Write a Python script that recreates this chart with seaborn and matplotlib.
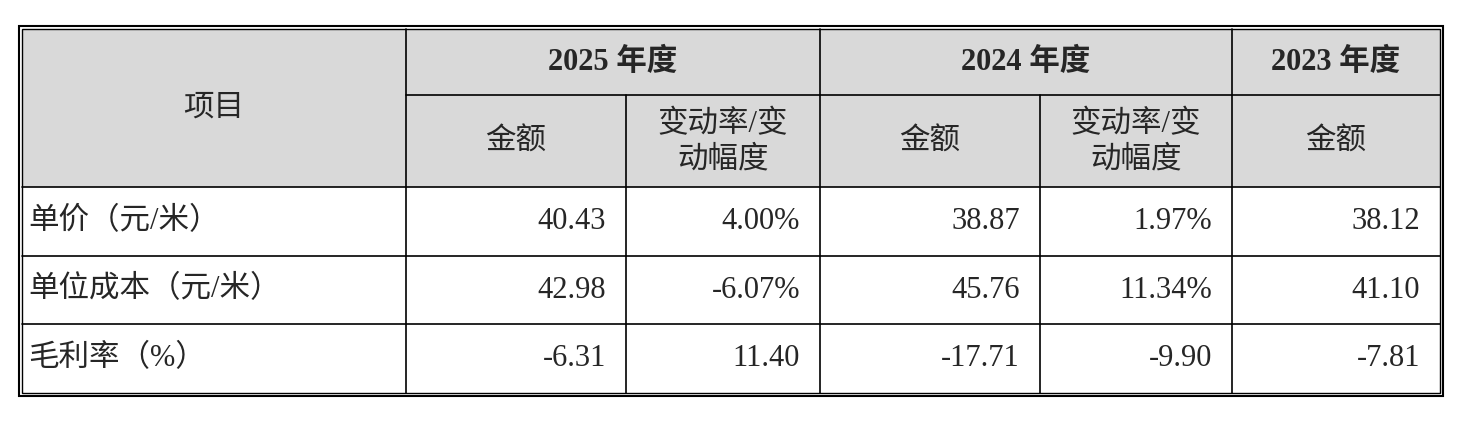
import matplotlib.pyplot as plt
import seaborn as sns
from matplotlib.patches import Rectangle

sns.set_theme(style="white")
plt.rcParams['font.family'] = ['Liberation Serif', 'Noto Sans CJK SC']

# table content
years = ['2025 年度', '2024 年度', '2023 年度']
sub_headers = ['金额', '变动率/变\n动幅度', '金额', '变动率/变\n动幅度', '金额']
row_labels = ['单价（元/米）', '单位成本（元/米）', '毛利率（%）']
row_values = [
    ['40.43', '4.00%', '38.87', '1.97%', '38.12'],
    ['42.98', '-6.07%', '45.76', '11.34%', '41.10'],
    ['-6.31', '11.40', '-17.71', '-9.90', '-7.81'],
]

# grid in pixels
col_x = [22, 406, 626, 820, 1040, 1232, 1440]
row_y = [29, 95, 187, 256, 324, 393]
gray = '#d9d9d9'
fs = 22

fig = plt.figure(figsize=(14.57, 4.26), dpi=100)
ax = fig.add_axes([0, 0, 1, 1])
ax.set_xlim(0, 1457)
ax.set_ylim(426, 0)
ax.axis('off')

ax.add_patch(Rectangle((col_x[0], row_y[0]), col_x[-1] - col_x[0], row_y[2] - row_y[0],
                       facecolor=gray, edgecolor='none'))

lw = 1.2
# horizontal lines
ax.plot([col_x[1], col_x[-1]], [row_y[1]] * 2, color='black', lw=lw)
for y in row_y[2:-1]:
    ax.plot([col_x[0], col_x[-1]], [y, y], color='black', lw=lw)
# vertical lines
ax.plot([col_x[1]] * 2, [row_y[0], row_y[-1]], color='black', lw=lw)
for x, top in [(col_x[2], row_y[1]), (col_x[3], row_y[0]), (col_x[4], row_y[1]), (col_x[5], row_y[0])]:
    ax.plot([x, x], [top, row_y[-1]], color='black', lw=lw)

# double outer border
ax.add_patch(Rectangle((19, 26), 1424, 370, fill=False, edgecolor='black', lw=1.5))
ax.add_patch(Rectangle((22, 29), 1418, 364, fill=False, edgecolor='black', lw=1.0))

# header
ax.text((col_x[0] + col_x[1]) / 2, 108, '项目', ha='center', va='center', fontsize=fs)
spans = [(1, 3), (3, 5), (5, 6)]
for (a, b), yr in zip(spans, years):
    ax.text((col_x[a] + col_x[b]) / 2, 62, yr, ha='center', va='center',
            fontsize=fs, fontweight='bold')
for i, h in enumerate(sub_headers):
    ax.text((col_x[i + 1] + col_x[i + 2]) / 2, 142, h, ha='center', va='center',
            fontsize=fs, linespacing=1.3)

# body
for r, (lab, vals) in enumerate(zip(row_labels, row_values)):
    yc = (row_y[r + 2] + row_y[r + 3]) / 2
    ax.text(col_x[0] + 6, yc, lab, ha='left', va='center', fontsize=fs)
    for c, v in enumerate(vals):
        ax.text(col_x[c + 2] - 20, yc, v, ha='right', va='center', fontsize=fs)

fig.savefig('out.png', dpi=100, facecolor='white')
